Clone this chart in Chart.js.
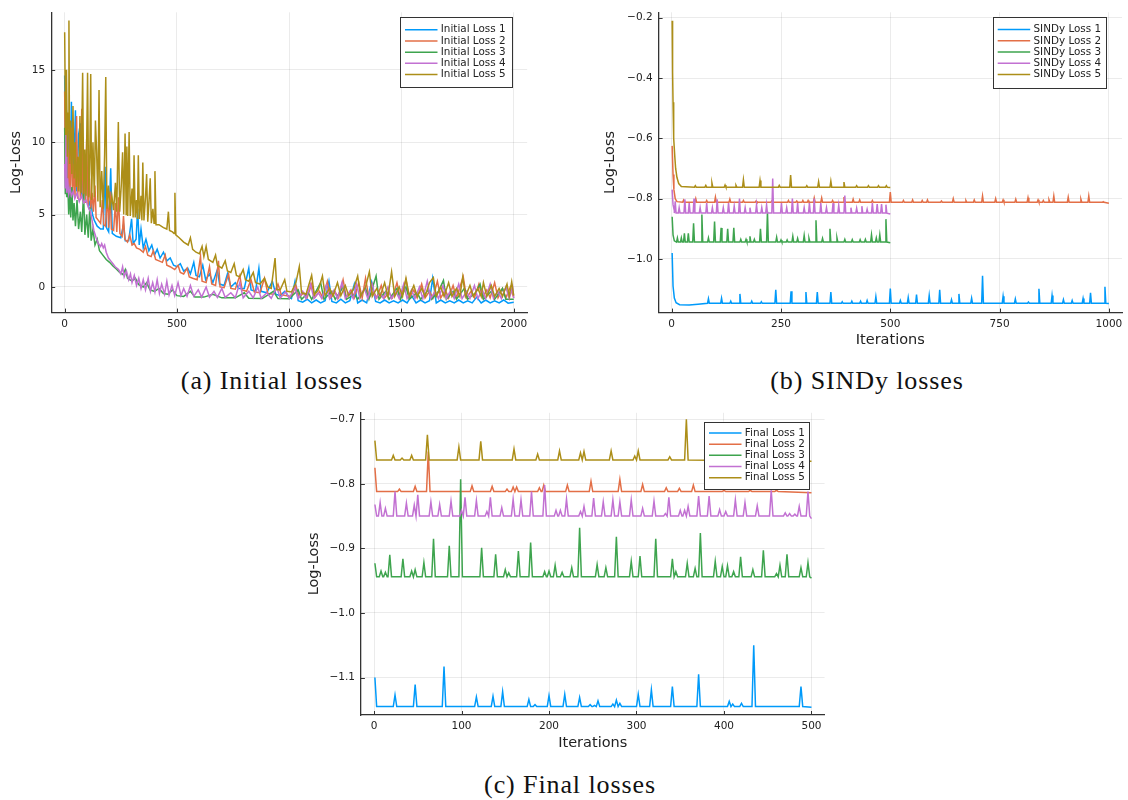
<!DOCTYPE html>
<html>
<head>
<meta charset="utf-8">
<script src="https://cdn.jsdelivr.net/npm/chart.js@4.4.0/dist/chart.umd.min.js"></script>
<style>
  body { margin: 0; background: #fff; width: 1128px; height: 800px; overflow: hidden; position: relative; }
  canvas { position: absolute; }
  .caption { position: absolute; font-family: "Liberation Serif", "DejaVu Serif", serif; font-size: 26px; letter-spacing: 0.9px; color: #111; text-align: center; line-height: 1; white-space: nowrap; }
</style>
</head>
<body>
<canvas id="chart-initial" width="545" height="355" style="left:0;top:0"></canvas>
<canvas id="chart-sindy" width="528" height="355" style="left:600px;top:0"></canvas>
<canvas id="chart-final" width="550" height="360" style="left:290px;top:400px"></canvas>
<div class="caption" style="left:122px;top:368px;width:300px">(a) Initial losses</div>
<div class="caption" style="left:717px;top:368px;width:300px">(b) SINDy losses</div>
<div class="caption" style="left:420px;top:772px;width:300px">(c) Final losses</div>
<script>
// ---- data ----
const lineColors = ["#009AFA", "#E36F47", "#3EA44E", "#C271D2", "#AC8E18"];

const initialLabels = ["Initial Loss 1", "Initial Loss 2", "Initial Loss 3", "Initial Loss 4", "Initial Loss 5"];
const sindyLabels = ["SINDy Loss 1", "SINDy Loss 2", "SINDy Loss 3", "SINDy Loss 4", "SINDy Loss 5"];
const finalLabels = ["Final Loss 1", "Final Loss 2", "Final Loss 3", "Final Loss 4", "Final Loss 5"];

const initialTicksX = [0, 500, 1000, 1500, 2000];
const initialTicksY = [0, 5, 10, 15];
const sindyTicksX = [0, 250, 500, 750, 1000];
const sindyTicksY = [-1.0, -0.8, -0.6, -0.4, -0.2];
const finalTicksX = [0, 100, 200, 300, 400, 500];
const finalTicksY = [-1.1, -1.0, -0.9, -0.8, -0.7];

// (a) initial losses, [iteration, log-loss]
const initial1 = [[0,14.6],[4,9.5],[8,12.2],[12,7.2],[18,10.8],[24,6.8],[30,12.8],[36,7.0],[42,9.0],[48,12.2],[54,6.6],[62,10.5],[70,11.3],[76,6.2],[84,9.3],[92,6.0],[100,8.0],[108,5.6],[116,6.0],[124,5.0],[132,4.6],[145,4.2],[160,4.0],[172,4.0],[180,8.3],[186,4.1],[196,3.8],[205,8.2],[212,3.7],[230,3.5],[250,3.4],[262,4.3],[270,3.2],[285,3.2],[298,4.7],[305,3.0],[318,3.3],[325,5.4],[332,2.9],[340,4.0],[350,2.7],[362,3.3],[375,2.5],[388,2.9],[400,2.2],[412,2.6],[425,2.0],[440,2.4],[455,1.8],[470,2.0],[485,1.5],[500,1.4],[515,1.6],[530,1.1],[548,1.3],[560,0.9],[575,1.7],[585,0.8],[600,0.7],[615,1.5],[628,0.5],[645,0.9],[660,0.3],[680,1.2],[690,0.2],[710,0.1],[725,0.9],[740,0.0],[760,0.3],[775,-0.1],[800,-0.1],[820,1.3],[830,-0.2],[850,-0.3],[865,1.3],[875,-0.3],[900,-0.4],[925,0.4],[940,-0.5],[960,-0.6],[980,-0.3],[1000,-0.7],
  [1010,-0.8],[1026,0.4],[1040,-0.95],[1060,-1.05],[1080,-0.85],[1100,-1.1],[1120,-0.9],[1140,-1.1],[1160,-0.95],[1177,0.4],[1190,-1.0],[1210,-1.1],[1230,-0.85],[1250,-1.1],[1270,-0.95],[1290,0.2],[1305,-1.1],[1325,-0.9],[1345,-1.1],[1367,0.35],[1385,-1.0],[1405,-1.1],[1425,-0.9],[1445,-1.1],[1465,-0.95],[1485,-1.1],[1505,-0.9],[1525,-1.1],[1545,-0.6],[1565,-1.1],[1585,-0.9],[1605,-1.1],[1625,-0.95],[1639,0.6],[1655,-1.1],[1675,-0.9],[1695,-1.1],[1715,-0.95],[1735,-1.1],[1755,-0.9],[1775,-1.1],[1795,-0.95],[1815,-1.1],[1835,-0.7],[1855,-1.1],[1875,-0.9],[1895,-1.1],[1915,-0.95],[1935,-1.1],[1955,-0.9],[1975,-1.12],[2000,-1.05]];
const initial2 = [[0,13.5],[3,8.0],[6,12.0],[9,7.0],[13,10.8],[17,6.6],[22,9.5],[26,6.3],[31,11.0],[36,6.4],[41,8.5],[46,6.2],[53,11.8],[58,6.1],[64,9.0],[70,6.0],[76,12.3],[82,5.9],[88,8.0],[93,5.8],[98,10.2],[104,5.6],[110,7.5],[116,5.4],[122,6.5],[128,5.2],[135,7.0],[140,4.8],[150,4.6],[160,4.4],[168,6.0],[174,4.3],[182,4.2],[190,6.3],[196,4.1],[202,6.6],[208,4.0],[218,3.9],[226,5.8],[232,3.8],[240,6.2],[246,3.7],[256,3.5],[262,4.9],[268,3.3],[280,3.1],[290,3.6],[300,2.9],[310,3.0],[320,2.7],[335,2.6],[350,2.4],[360,2.8],[370,2.2],[385,2.1],[395,2.5],[405,1.9],[420,1.8],[435,1.7],[448,2.2],[455,1.5],[470,1.4],[490,1.2],[505,1.5],[515,1.0],[530,0.9],[545,1.3],[555,0.7],[570,0.6],[590,0.5],[605,2.1],[612,0.4],[630,0.3],[645,1.4],[655,0.2],[672,0.1],[685,1.8],[692,0.0],[710,-0.05],[730,0.9],[740,-0.1],[760,-0.15],[780,0.8],[790,-0.2],[810,-0.3],[830,0.5],[845,-0.35],[870,-0.4],[890,0.6],[905,-0.45],[930,-0.5],[950,0.2],[965,-0.55],[990,-0.6],
  [1010,-0.65],[1030,0.1],[1045,-0.7],[1065,-0.4],[1080,-0.72],[1100,0.2],[1115,-0.72],[1135,-0.3],[1150,-0.75],[1170,0.4],[1185,-0.75],[1205,-0.35],[1220,-0.75],[1240,0.5],[1255,-0.75],[1275,-0.2],[1290,-0.75],[1310,0.3],[1325,-0.75],[1340,0.6],[1355,-0.75],[1375,-0.3],[1390,-0.75],[1410,0.1],[1425,-0.75],[1445,-0.4],[1460,-0.75],[1480,0.3],[1495,-0.75],[1520,0.5],[1535,-0.75],[1555,-0.2],[1570,-0.75],[1590,0.2],[1605,-0.75],[1625,-0.3],[1640,-0.75],[1660,0.4],[1675,-0.75],[1695,-0.2],[1710,-0.75],[1730,0.1],[1745,-0.75],[1775,0.7],[1790,-0.75],[1810,-0.3],[1825,-0.75],[1845,0.2],[1860,-0.75],[1880,-0.2],[1895,-0.75],[1915,0.3],[1930,-0.75],[1950,-0.1],[1965,-0.75],[1985,0.0],[2000,-0.75]];
const initial3 = [[0,11.0],[3,6.4],[6,9.0],[9,6.2],[14,7.0],[18,5.0],[22,6.8],[27,4.8],[32,6.9],[37,4.6],[42,5.8],[48,4.2],[55,6.0],[62,4.0],[70,5.2],[76,3.8],[84,6.5],[90,3.6],[98,5.0],[105,3.4],[112,5.5],[118,3.2],[126,4.0],[135,2.9],[145,3.3],[155,2.5],[170,2.2],[185,1.9],[200,1.7],[215,1.45],[230,1.25],[245,1.0],[260,0.85],[270,1.2],[280,0.6],[300,0.4],[315,0.6],[330,0.15],[350,0.0],[365,0.3],[380,-0.2],[400,-0.3],[420,-0.1],[440,-0.45],[460,-0.5],[480,-0.2],[500,-0.6],[530,-0.65],[560,-0.3],[580,-0.7],[620,-0.7],[660,-0.5],[700,-0.75],[760,-0.75],[800,-0.4],[820,-0.78],[880,-0.8],[930,-0.3],[950,-0.8],[1000,-0.82],
  [1040,-0.2],[1055,-0.85],[1085,-0.4],[1100,-0.85],[1140,0.3],[1155,-0.85],[1190,-0.3],[1205,-0.85],[1240,0.0],[1255,-0.85],[1290,-0.5],[1305,-0.85],[1340,-0.1],[1355,-0.85],[1387,0.75],[1400,-0.85],[1430,-0.3],[1445,-0.85],[1480,-0.1],[1495,-0.85],[1520,0.0],[1535,-0.85],[1570,-0.4],[1585,-0.85],[1620,-0.2],[1635,-0.85],[1665,-0.3],[1687,0.45],[1700,-0.85],[1730,-0.3],[1745,-0.85],[1780,-0.1],[1795,-0.85],[1830,-0.4],[1850,0.2],[1865,-0.85],[1900,-0.3],[1915,-0.85],[1950,-0.1],[1965,-0.85],[2000,-0.85]];
const initial4 = [[0,8.5],[3,6.8],[6,10.5],[9,6.5],[13,7.5],[18,6.4],[24,6.8],[30,6.3],[38,6.6],[45,6.1],[55,6.5],[65,5.9],[75,6.3],[85,5.8],[95,6.0],[105,5.5],[115,5.2],[122,4.6],[130,3.9],[140,3.4],[150,3.0],[160,2.8],[165,3.0],[172,2.7],[178,2.9],[185,2.4],[195,2.0],[205,1.8],[215,1.6],[225,1.4],[240,1.2],[250,0.9],[258,1.4],[265,0.7],[275,1.1],[285,0.5],[293,0.9],[300,0.3],[310,0.8],[320,0.1],[330,0.6],[340,-0.1],[350,0.5],[360,-0.2],[372,0.6],[382,-0.3],[392,0.3],[402,-0.35],[412,0.5],[422,-0.45],[432,0.2],[445,-0.5],[455,0.4],[465,-0.55],[478,0.1],[490,-0.6],[505,0.3],[518,-0.6],[530,-0.1],[545,-0.65],[560,0.1],[575,-0.65],[595,-0.2],[610,-0.7],[630,0.0],[645,-0.7],[665,-0.3],[680,-0.72],[700,-0.1],[715,-0.72],[740,-0.4],[760,-0.75],[780,0.3],[795,-0.75],[820,-0.3],[840,-0.75],[860,0.0],[875,-0.78],[900,-0.4],[920,-0.78],[945,0.0],[960,-0.78],[985,-0.3],[1000,-0.8],
  [1025,0.0],[1040,-0.8],[1060,-0.3],[1075,-0.8],[1095,0.2],[1110,-0.8],[1130,-0.4],[1145,-0.8],[1165,0.1],[1180,-0.8],[1200,-0.2],[1215,-0.8],[1235,0.3],[1250,-0.8],[1270,-0.3],[1285,-0.8],[1300,0.2],[1315,-0.8],[1335,-0.1],[1350,-0.8],[1370,0.2],[1385,-0.8],[1405,-0.4],[1420,-0.8],[1440,0.0],[1455,-0.8],[1475,-0.3],[1490,-0.8],[1510,0.2],[1525,-0.8],[1545,-0.2],[1560,-0.8],[1580,0.0],[1595,-0.8],[1615,0.4],[1630,-0.8],[1650,-0.3],[1665,-0.8],[1685,0.1],[1700,-0.8],[1720,-0.2],[1735,-0.8],[1755,0.2],[1770,-0.8],[1790,-0.3],[1805,-0.8],[1825,0.1],[1840,-0.8],[1860,-0.2],[1875,-0.8],[1895,0.2],[1910,-0.8],[1930,-0.3],[1945,-0.8],[1965,0.0],[1980,-0.8],[1995,0.0],[2000,-0.78]];
const initial5 = [[0,17.6],[4,10.5],[8,15.0],[12,9.0],[16,12.0],[19,18.4],[22,8.5],[27,11.5],[32,7.8],[37,12.5],[42,7.5],[47,10.0],[52,6.9],[58,9.0],[63,6.6],[68,11.8],[73,6.5],[80,14.8],[85,6.4],[90,9.5],[95,6.3],[102,14.8],[107,6.2],[112,9.0],[116,14.7],[120,6.0],[126,10.0],[132,6.2],[137,11.5],[142,9.5],[148,5.9],[153,13.6],[158,5.5],[165,8.0],[172,5.4],[178,9.2],[183,14.5],[188,5.4],[195,7.0],[202,5.3],[210,6.3],[218,5.3],[226,7.2],[232,5.2],[239,11.4],[245,5.2],[252,7.0],[258,9.3],[263,5.0],[269,10.6],[274,5.0],[277,9.7],[281,4.9],[287,10.7],[292,4.9],[300,6.8],[305,4.8],[309,9.1],[314,4.8],[320,6.0],[324,4.7],[328,9.1],[333,4.7],[340,6.3],[344,4.6],[348,8.6],[353,4.6],[360,6.2],[365,7.8],[370,4.5],[376,6.0],[381,7.5],[386,4.4],[393,5.4],[398,4.4],[402,8.0],[407,4.3],[420,4.3],[440,4.1],[455,4.0],[462,5.2],[467,3.9],[480,3.8],[487,3.7],[491,6.5],[495,3.6],[510,3.4],[530,3.1],[550,2.9],[560,3.4],[570,2.6],[585,2.4],[600,2.3],[612,2.8],[620,2.1],[630,2.8],[640,1.9],[660,1.7],[672,2.2],[680,1.5],[700,1.3],[715,1.8],[725,1.1],[740,1.0],[755,1.6],[765,0.8],[780,0.7],[795,1.2],[805,0.5],[820,0.4],[840,1.0],[850,0.3],[870,0.2],[890,0.6],[905,0.0],[920,-0.1],[937,2.0],[945,-0.2],[960,-0.2],[980,0.5],[990,-0.3],[1010,-0.35],[1030,0.3],[1045,1.4],[1055,-0.4],
  [1075,-0.5],[1100,0.8],[1112,-0.55],[1130,-0.2],[1148,0.75],[1160,-0.6],[1180,-0.1],[1195,-0.6],[1215,0.3],[1230,-0.6],[1250,0.1],[1265,-0.6],[1285,-0.2],[1305,0.75],[1318,-0.65],[1340,0.0],[1357,1.05],[1370,-0.65],[1390,-0.1],[1405,-0.65],[1425,0.3],[1440,-0.65],[1456,1.05],[1470,-0.65],[1490,0.0],[1505,-0.65],[1520,0.6],[1535,-0.65],[1555,0.1],[1570,-0.65],[1590,-0.1],[1605,-0.65],[1625,0.3],[1642,0.65],[1655,-0.65],[1675,0.0],[1690,-0.65],[1710,0.3],[1725,-0.65],[1745,-0.1],[1760,-0.65],[1773,0.7],[1785,-0.65],[1805,0.1],[1820,-0.65],[1840,-0.1],[1855,-0.65],[1865,0.3],[1880,-0.65],[1900,0.1],[1915,-0.65],[1935,-0.1],[1950,-0.65],[1970,0.2],[1980,-0.65],[1991,0.35],[2000,-0.6]];

// (b) SINDy losses: start of each curve, flat level, spikes [iteration, log-loss], last point
const sindy1Head = [[1,-0.98],[3,-1.09],[6,-1.13],[10,-1.145],[18,-1.152],[40,-1.153],[60,-1.15]];
const sindy1Base = -1.147;
const sindy1Spikes = [[84,-1.132],[114,-1.13],[135,-1.14],[156,-1.116],[183,-1.14],[205,-1.142],[238,-1.102],[273,-1.107],[307,-1.11],[333,-1.11],[364,-1.11],[390,-1.142],[412,-1.14],[432,-1.14],[447,-1.138],[467,-1.125],[500,-1.098],[523,-1.138],[541,-1.128],[560,-1.118],[589,-1.121],[613,-1.102],[640,-1.135],[657,-1.116],[686,-1.13],[711,-1.056],[758,-1.124],[786,-1.133],[816,-1.143],[840,-1.099],[870,-1.121],[896,-1.135],[916,-1.138],[941,-1.131],[958,-1.112],[991,-1.092]];
const sindy1End = [1000,-1.148];

const sindy2Head = [[1,-0.625],[3,-0.72],[5,-0.77],[8,-0.80],[12,-0.81]];
const sindy2Base = -0.812;
const sindy2Spikes = [[27,-0.805],[55,-0.8],[80,-0.806],[100,-0.795],[133,-0.802],[164,-0.806],[193,-0.808],[229,-0.808],[267,-0.806],[286,-0.808],[300,-0.806],[312,-0.806],[326,-0.798],[343,-0.798],[368,-0.806],[394,-0.795],[415,-0.802],[430,-0.804],[459,-0.806],[500,-0.778],[530,-0.806],[551,-0.804],[573,-0.806],[585,-0.804],[617,-0.808],[644,-0.8],[673,-0.806],[692,-0.804],[711,-0.791],[741,-0.8],[758,-0.804],[787,-0.802],[815,-0.797],[838,-0.804],[850,-0.806],[863,-0.804],[874,-0.791],[907,-0.795],[936,-0.802],[954,-0.791],[987,-0.81]];
const sindy2End = [1000,-0.815];

const sindy3Head = [[1,-0.86],[3,-0.92],[6,-0.94]];
const sindy3Base = -0.944;
const sindy3Spikes = [[13,-0.93],[22,-0.93],[29,-0.915],[38,-0.915],[50,-0.882],[69,-0.853],[84,-0.93],[98,-0.876],[113,-0.897],[128,-0.9],[142,-0.897],[158,-0.935],[170,-0.935],[179,-0.925],[189,-0.935],[203,-0.9],[219,-0.843],[240,-0.928],[250,-0.937],[264,-0.937],[277,-0.925],[288,-0.932],[303,-0.922],[314,-0.932],[330,-0.872],[345,-0.932],[362,-0.9],[378,-0.93],[396,-0.935],[413,-0.936],[431,-0.936],[443,-0.935],[457,-0.92],[468,-0.93],[476,-0.92],[490,-0.868]];
const sindy3End = [500,-0.946];

const sindy4Head = [[1,-0.77],[3,-0.82],[6,-0.84]];
const sindy4Base = -0.848;
const sindy4Spikes = [[8,-0.809],[17,-0.83],[30,-0.802],[40,-0.815],[51,-0.8],[65,-0.83],[80,-0.815],[93,-0.83],[104,-0.802],[118,-0.83],[130,-0.815],[143,-0.825],[155,-0.8],[168,-0.83],[179,-0.83],[194,-0.82],[206,-0.83],[217,-0.82],[231,-0.733],[251,-0.815],[263,-0.83],[276,-0.8],[288,-0.815],[303,-0.83],[315,-0.815],[326,-0.8],[341,-0.815],[354,-0.83],[369,-0.815],[382,-0.822],[396,-0.79],[410,-0.83],[423,-0.832],[435,-0.825],[447,-0.835],[459,-0.815],[470,-0.818],[480,-0.818],[490,-0.82]];
const sindy4End = [500,-0.851];

const sindy5Head = [[1,-0.21],[2,-0.38],[3,-0.48],[4,-0.55],[5,-0.60],[7,-0.66],[9,-0.70],[12,-0.73],[16,-0.75],[22,-0.76]];
const sindy5Base = -0.762;
const sindy5Spikes = [[54,-0.757],[78,-0.756],[92,-0.748],[122,-0.755],[147,-0.756],[164,-0.737],[202,-0.74],[246,-0.756],[272,-0.722],[309,-0.757],[336,-0.744],[364,-0.742],[394,-0.745],[423,-0.757],[450,-0.757],[473,-0.757],[491,-0.757]];
const sindy5End = [500,-0.763];

// (c) final losses
const final1Head = [[1,-1.10],[3,-1.145]];
const final1Base = -1.145;
const final1Spikes = [[24,-1.127],[47,-1.111],[80,-1.083],[117,-1.13],[136,-1.129],[147,-1.122],[177,-1.134],[184,-1.142],[200,-1.128],[218,-1.126],[235,-1.131],[247,-1.142],[252,-1.143],[256,-1.136],[273,-1.141],[277,-1.135],[281,-1.14],[302,-1.126],[317,-1.119],[341,-1.114],[371,-1.095],[406,-1.137],[410,-1.141],[420,-1.14],[434,-1.05],[488,-1.114]];
const final1End = [500,-1.146];

const final2Head = [[1,-0.775],[3,-0.812]];
const final2Base = -0.812;
const final2Spikes = [[29,-0.808],[47,-0.804],[62,-0.75],[112,-0.803],[135,-0.804],[152,-0.808],[159,-0.805],[163,-0.805],[189,-0.806],[194,-0.802],[221,-0.802],[248,-0.796],[281,-0.793],[307,-0.801],[334,-0.806],[349,-0.807],[365,-0.802],[400,-0.81],[430,-0.81],[460,-0.81]];
const final2End = [500,-0.814];

const final3Head = [[1,-0.923],[3,-0.944]];
const final3Base = -0.944;
const final3Spikes = [[8,-0.935],[13,-0.937],[18,-0.91],[33,-0.916],[43,-0.935],[47,-0.933],[57,-0.922],[68,-0.885],[86,-0.896],[99,-0.793],[123,-0.899],[139,-0.909],[150,-0.933],[154,-0.938],[165,-0.904],[179,-0.891],[195,-0.936],[200,-0.935],[207,-0.926],[215,-0.937],[226,-0.93],[235,-0.868],[255,-0.925],[265,-0.93],[277,-0.882],[294,-0.92],[304,-0.912],[322,-0.885],[341,-0.916],[345,-0.936],[358,-0.923],[367,-0.931],[373,-0.876],[390,-0.92],[398,-0.928],[404,-0.927],[411,-0.936],[419,-0.913],[433,-0.933],[445,-0.903],[460,-0.939],[464,-0.926],[472,-0.909],[488,-0.93],[496,-0.922]];
const final3End = [500,-0.946];

const final4Head = [[1,-0.832],[3,-0.85]];
const final4Base = -0.85;
const final4Spikes = [[7,-0.829],[13,-0.838],[24,-0.812],[37,-0.83],[46,-0.833],[50,-0.817],[65,-0.828],[75,-0.832],[88,-0.827],[100,-0.841],[104,-0.821],[117,-0.826],[129,-0.843],[133,-0.821],[146,-0.837],[159,-0.824],[168,-0.825],[180,-0.812],[195,-0.802],[208,-0.841],[213,-0.841],[220,-0.824],[236,-0.843],[240,-0.835],[251,-0.822],[262,-0.828],[273,-0.825],[281,-0.828],[294,-0.825],[307,-0.838],[320,-0.827],[333,-0.846],[337,-0.821],[350,-0.841],[355,-0.841],[359,-0.835],[371,-0.819],[383,-0.819],[395,-0.84],[402,-0.843],[413,-0.825],[424,-0.829],[438,-0.834],[454,-0.81],[470,-0.845],[475,-0.846],[481,-0.847],[486,-0.835],[496,-0.812]];
const final4End = [500,-0.854];

const final5Head = [[1,-0.733],[3,-0.763]];
const final5Base = -0.763;
const final5Spikes = [[22,-0.756],[32,-0.76],[43,-0.756],[61,-0.724],[97,-0.743],[122,-0.734],[160,-0.746],[187,-0.754],[212,-0.749],[236,-0.752],[240,-0.75],[271,-0.749],[298,-0.757],[302,-0.749],[338,-0.758],[357,-0.7]];
const final5End = [500,-0.765];

// ---- helpers ----
function spikeSeries(head, base, spikes, end, half) {
  let pts = head.slice();
  spikes.forEach(([x, y]) => {
    pts.push([x - half, base], [x, y], [x + half, base]);
  });
  pts.push(end);
  return pts;
}

function makeDatasets(series, labels) {
  return series.map((pts, i) => ({
    label: labels[i],
    data: pts.map(p => ({ x: p[0], y: p[1] })),
    borderColor: lineColors[i],
    borderWidth: 1.5,
    pointRadius: 0,
    tension: 0,
    order: series.length - i,
  }));
}

const minus = v => String(v).replace("-", "\u2212");

// inward tick marks + boxed legend inside the plot
const frameExtras = {
  id: "frameExtras",
  afterDraw(chart, args, opts) {
    const { ctx, chartArea: a, scales: { x, y } } = chart;
    ctx.save();
    ctx.strokeStyle = "#333";
    ctx.lineWidth = 1;
    x.ticks.forEach(t => {
      const px = Math.round(x.getPixelForValue(t.value)) + 0.5;
      ctx.beginPath(); ctx.moveTo(px, a.bottom); ctx.lineTo(px, a.bottom - 4); ctx.stroke();
    });
    y.ticks.forEach(t => {
      const py = Math.round(y.getPixelForValue(t.value)) + 0.5;
      ctx.beginPath(); ctx.moveTo(a.left, py); ctx.lineTo(a.left + 4, py); ctx.stroke();
    });

    const b = opts.box;
    ctx.fillStyle = "#fff";
    ctx.fillRect(b.x, b.y, b.w, b.h);
    ctx.strokeStyle = "#333";
    ctx.strokeRect(Math.round(b.x) + 0.5, Math.round(b.y) + 0.5, Math.round(b.w), Math.round(b.h));
    ctx.font = '10.4px "DejaVu Sans"';
    ctx.textBaseline = "middle";
    const step = 11.2;
    chart.data.datasets.forEach((ds, i) => {
      const ry = b.y + b.h / 2 + (i - 2) * step;
      ctx.strokeStyle = ds.borderColor;
      ctx.lineWidth = 1.5;
      ctx.beginPath(); ctx.moveTo(b.x + 5, ry); ctx.lineTo(b.x + 37.5, ry); ctx.stroke();
      ctx.fillStyle = "#222";
      ctx.fillText(ds.label, b.x + 40.8, ry);
    });
    ctx.restore();
  },
};

function axisOptions(cfg) {
  const tickFont = { family: "DejaVu Sans", size: 10.5 };
  const titleFont = { family: "DejaVu Sans", size: 14.5 };
  return {
    x: {
      type: "linear",
      min: cfg.xMin, max: cfg.xMax,
      afterBuildTicks: axis => { axis.ticks = cfg.xTicks.map(v => ({ value: v })); },
      afterFit: scale => { scale.height = cfg.xHeight; },
      ticks: { font: tickFont, color: "#222", padding: 5, maxRotation: 0, callback: v => minus(v) },
      grid: { color: "rgba(0,0,0,0.08)", drawTicks: false },
      border: { display: true, color: "#333", width: 1.3 },
      title: { display: true, text: "Iterations", font: titleFont, color: "#222", padding: { top: 0, bottom: cfg.xTitlePad } },
    },
    y: {
      type: "linear",
      min: cfg.yMin, max: cfg.yMax,
      afterBuildTicks: axis => { axis.ticks = cfg.yTicks.map(v => ({ value: v })); },
      afterFit: scale => { scale.width = cfg.yWidth; },
      ticks: { font: tickFont, color: "#222", padding: 6, callback: cfg.yFormat },
      grid: { color: "rgba(0,0,0,0.08)", drawTicks: false },
      border: { display: true, color: "#333", width: 1.3 },
      title: { display: true, text: "Log-Loss", font: titleFont, color: "#222", padding: { top: cfg.yTitlePad, bottom: 0 } },
    },
  };
}

function drawPanel(id, series, labels, cfg) {
  const ctx = document.getElementById(id).getContext("2d");
  return new Chart(ctx, {
    type: "line",
    data: { datasets: makeDatasets(series, labels) },
    options: {
      responsive: false,
      animation: false,
      layout: { padding: { top: cfg.padTop, right: cfg.padRight, left: 0, bottom: 0 } },
      scales: axisOptions(cfg),
      plugins: {
        legend: { display: false },
        tooltip: { enabled: false },
        frameExtras: { box: cfg.box },
      },
    },
    plugins: [frameExtras],
  });
}

drawPanel("chart-initial",
  [initial1, initial2, initial3, initial4, initial5], initialLabels, {
    xMin: -60, xMax: 2060, yMin: -1.77, yMax: 18.97,
    xTicks: initialTicksX, yTicks: initialTicksY,
    yFormat: v => minus(v),
    padTop: 8.4, padRight: 17.8, yWidth: 51.2, xHeight: 42.4,
    xTitlePad: 6, yTitlePad: 7.5,
    box: { x: 400, y: 17, w: 111.5, h: 70.3 },
  });

drawPanel("chart-sindy", [
    spikeSeries(sindy1Head, sindy1Base, sindy1Spikes, sindy1End, 2),
    spikeSeries(sindy2Head, sindy2Base, sindy2Spikes, sindy2End, 2),
    spikeSeries(sindy3Head, sindy3Base, sindy3Spikes, sindy3End, 2),
    spikeSeries(sindy4Head, sindy4Base, sindy4Spikes, sindy4End, 2),
    spikeSeries(sindy5Head, sindy5Base, sindy5Spikes, sindy5End, 2),
  ], sindyLabels, {
    xMin: -30, xMax: 1030, yMin: -1.178, yMax: -0.182,
    xTicks: sindyTicksX, yTicks: sindyTicksY,
    yFormat: v => minus(v.toFixed(1)),
    padTop: 7.3, padRight: 6, yWidth: 58.6, xHeight: 42.4,
    xTitlePad: 6, yTitlePad: 2,
    box: { x: 392.7, y: 16.7, w: 113.3, h: 70.6 },
  });

drawPanel("chart-final", [
    spikeSeries(final1Head, final1Base, final1Spikes, final1End, 2),
    spikeSeries(final2Head, final2Base, final2Spikes, final2End, 2),
    spikeSeries(final3Head, final3Base, final3Spikes, final3End, 2),
    spikeSeries(final4Head, final4Base, final4Spikes, final4End, 2),
    spikeSeries(final5Head, final5Base, final5Spikes, final5End, 2),
  ], finalLabels, {
    xMin: -15, xMax: 515, yMin: -1.158, yMax: -0.690,
    xTicks: finalTicksX, yTicks: finalTicksY,
    yFormat: v => minus(v.toFixed(1)),
    padTop: 12.8, padRight: 15.4, yWidth: 70.9, xHeight: 45,
    xTitlePad: 8.5, yTitlePad: 15.7,
    box: { x: 414, y: 21.7, w: 105.3, h: 67.3 },
  });
</script>
</body>
</html>
